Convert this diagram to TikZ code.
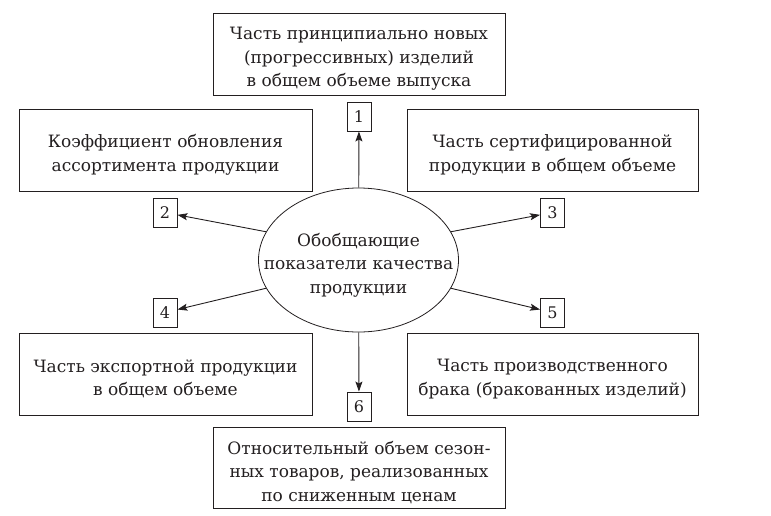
\documentclass[tikz,border=0pt]{standalone}
\usepackage{fontspec}
\setmainfont{DejaVu Serif}
\usetikzlibrary{shapes.geometric,arrows.meta}
\definecolor{ink}{HTML}{231F20}
\tikzset{
  txtfont/.style={font=\fontsize{17}{23.5}\selectfont, text=ink, align=center},
  txtbox/.style={draw=ink, line width=0.9pt, rectangle, inner sep=0pt},
  ovalbox/.style={draw=ink, line width=0.8pt, ellipse, inner sep=0pt},
  inside/.style={label={[txtfont, yshift=-5pt]center:#1}},
  numbox/.style={draw=ink, line width=0.9pt, rectangle, minimum width=24pt, minimum height=29pt,
    inner sep=0pt, text=ink, font=\fontsize{16}{20}\selectfont},
  conn/.style={draw=ink, line width=0.9pt, -{Stealth[length=10pt,width=7pt,inset=2pt]}}
}
\begin{document}
\begin{tikzpicture}[x=1pt,y=-1pt]
\useasboundingbox (0,0) rectangle (771,515);
\node[txtbox, minimum width=292pt, minimum height=82pt,
  inside={Часть принципиально новых\\(прогрессивных) изделий\\в общем объеме выпуска}] (top) at (359,54) {};
\node[txtbox, minimum width=293pt, minimum height=82pt,
  inside={Коэффициент обновления\\ассортимента продукции}] (tl) at (165.5,150) {};
\node[txtbox, minimum width=291pt, minimum height=82pt,
  inside={Часть сертифицированной\\продукции в общем объеме}] (tr) at (552.5,150) {};
\node[txtbox, minimum width=293pt, minimum height=82pt,
  inside={Часть экспортной продукции\\в общем объеме}] (bl) at (165.5,374) {};
\node[txtbox, minimum width=291pt, minimum height=82pt,
  inside={Часть производственного\\брака (бракованных изделий)}] (br) at (552.5,374) {};
\node[txtbox, minimum width=292pt, minimum height=81pt,
  inside={Относительный объем сезон-\\ных товаров, реализованных\\по сниженным ценам}] (bot) at (359,467.5) {};
\node[ovalbox, minimum width=200pt, minimum height=144pt,
  inside={Обобщающие\\показатели качества\\продукции}] (e) at (358.5,260) {};
\node[numbox] (n1) at (359,116.5) {1};
\node[numbox] (n2) at (165,212.5) {2};
\node[numbox] (n3) at (552.5,212.5) {3};
\node[numbox] (n4) at (165,312.5) {4};
\node[numbox] (n5) at (552.5,312.5) {5};
\node[numbox] (n6) at (359,406.5) {6};
\draw[conn] (e) -- (n1);
\draw[conn] (e.163) -- (n2);
\draw[conn] (e.17) -- (n3);
\draw[conn] (e.197) -- (n4);
\draw[conn] (e.343) -- (n5);
\draw[conn] (e) -- (n6);
\end{tikzpicture}
\end{document}
